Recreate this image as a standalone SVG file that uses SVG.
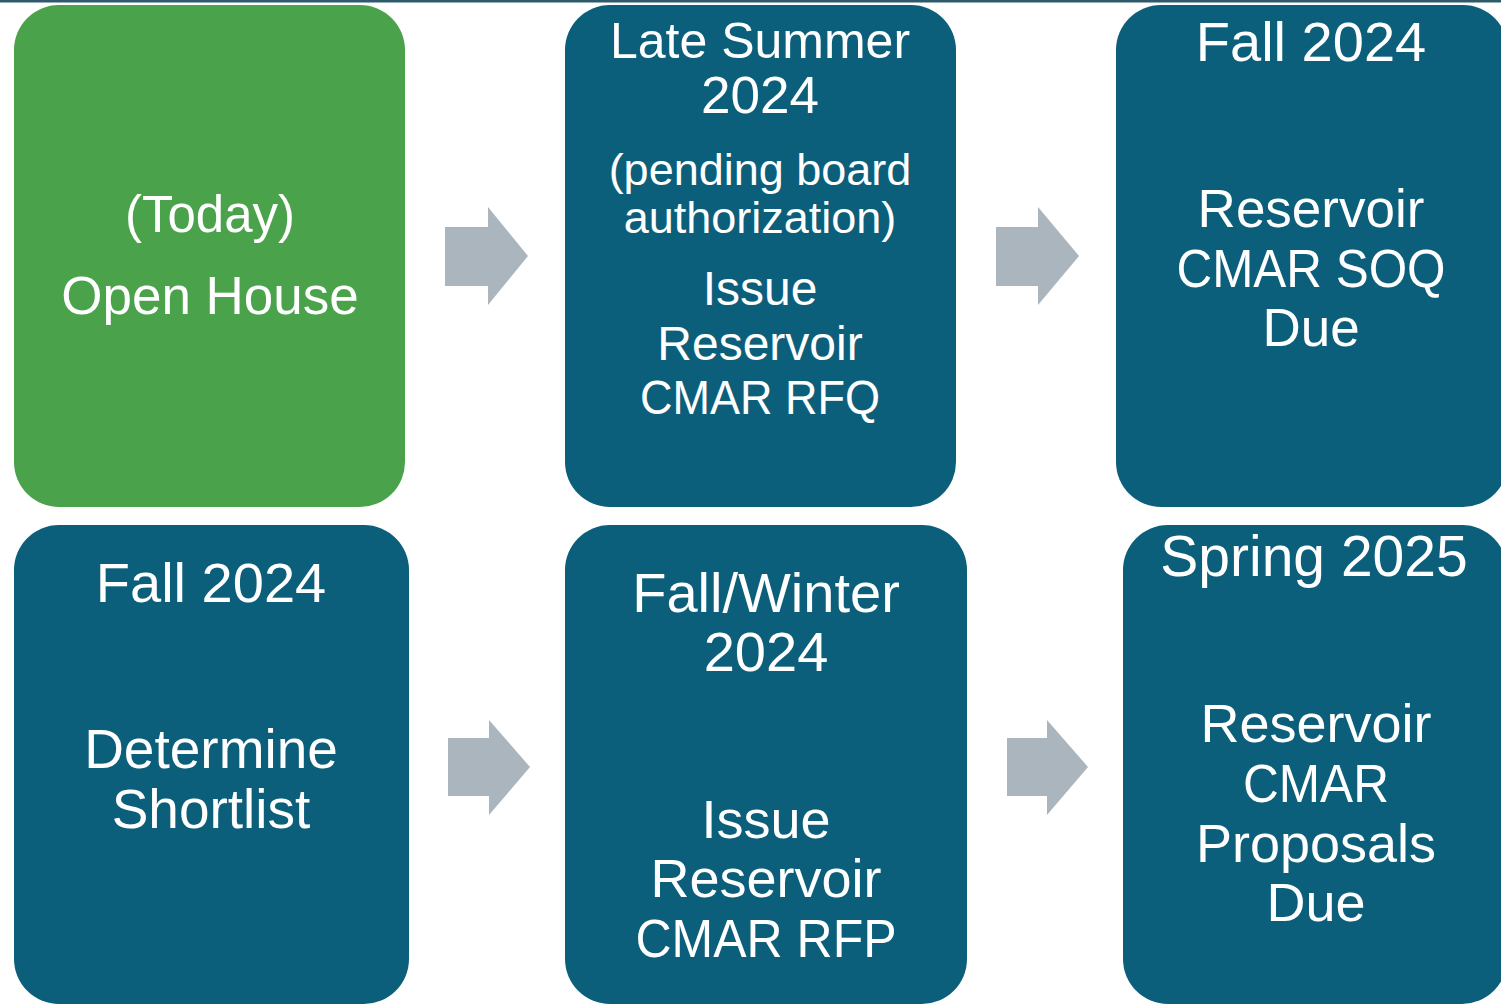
<svg xmlns="http://www.w3.org/2000/svg" width="1501" height="1005" viewBox="0 0 1501 1005">
<style>
.green{fill:#4aa34a;}
.teal{fill:#0c5f7b;}
.arrow{fill:#abb5be;}
text{font-family:"Liberation Sans",Arial,sans-serif;fill:#ffffff;text-anchor:middle;}
</style>
<rect x="0" y="0" width="1501" height="1005" fill="#ffffff"/>
<rect x="0" y="0" width="1501" height="2.5" fill="#2e5a6b"/>
<g id="connectors">
<polygon class="arrow" points="445,227 488,227 488,207 528,256 488,305 488,286 445,286"/>
<polygon class="arrow" points="996,227 1038,227 1038,207 1079,256 1038,305 1038,286 996,286"/>
<polygon class="arrow" points="448,738 489,738 489,720 530,767 489,815 489,796 448,796"/>
<polygon class="arrow" points="1007,738 1047,738 1047,720 1088,767 1047,815 1047,796 1007,796"/>
</g>
<g id="node-today">
<rect class="green" x="14" y="5" width="391" height="502" rx="45" ry="45"/>
<text x="210" y="232" font-size="51">(Today)</text>
<text x="210" y="314" font-size="53">Open House</text>
</g>
<g id="node-late-summer">
<rect class="teal" x="565" y="5" width="391" height="502" rx="45" ry="45"/>
<text x="760" y="58" font-size="50">Late Summer</text>
<text x="760" y="113" font-size="51" textLength="118" lengthAdjust="spacingAndGlyphs">2024</text>
<text x="760" y="185" font-size="45">(pending board</text>
<text x="760" y="233" font-size="45">authorization)</text>
<text x="760" y="305" font-size="48">Issue</text>
<text x="760" y="360" font-size="48">Reservoir</text>
<text x="760" y="414" font-size="48" textLength="240" lengthAdjust="spacingAndGlyphs">CMAR RFQ</text>
</g>
<g id="node-fall-soq">
<rect class="teal" x="1116" y="5" width="392" height="502" rx="45" ry="45"/>
<text x="1311" y="61" font-size="56">Fall 2024</text>
<text x="1311" y="227" font-size="53">Reservoir</text>
<text x="1311" y="287" font-size="53" textLength="269" lengthAdjust="spacingAndGlyphs">CMAR SOQ</text>
<text x="1311" y="346" font-size="53">Due</text>
</g>
<g id="node-shortlist">
<rect class="teal" x="14" y="525" width="395" height="479" rx="45" ry="45"/>
<text x="211" y="602" font-size="56">Fall 2024</text>
<text x="211" y="768" font-size="55">Determine</text>
<text x="211" y="828" font-size="55">Shortlist</text>
</g>
<g id="node-fall-winter">
<rect class="teal" x="565" y="525" width="402" height="479" rx="45" ry="45"/>
<text x="766" y="612" font-size="56">Fall/Winter</text>
<text x="766" y="671" font-size="56">2024</text>
<text x="766" y="838" font-size="54">Issue</text>
<text x="766" y="897" font-size="54">Reservoir</text>
<text x="766" y="957" font-size="54" textLength="261" lengthAdjust="spacingAndGlyphs">CMAR RFP</text>
</g>
<g id="node-spring">
<rect class="teal" x="1123" y="525" width="384" height="479" rx="45" ry="45"/>
<text x="1314" y="576" font-size="57">Spring 2025</text>
<text x="1316" y="742" font-size="54">Reservoir</text>
<text x="1316" y="802" font-size="54" textLength="146" lengthAdjust="spacingAndGlyphs">CMAR</text>
<text x="1316" y="862" font-size="54">Proposals</text>
<text x="1316" y="921" font-size="54">Due</text>
</g>
</svg>
